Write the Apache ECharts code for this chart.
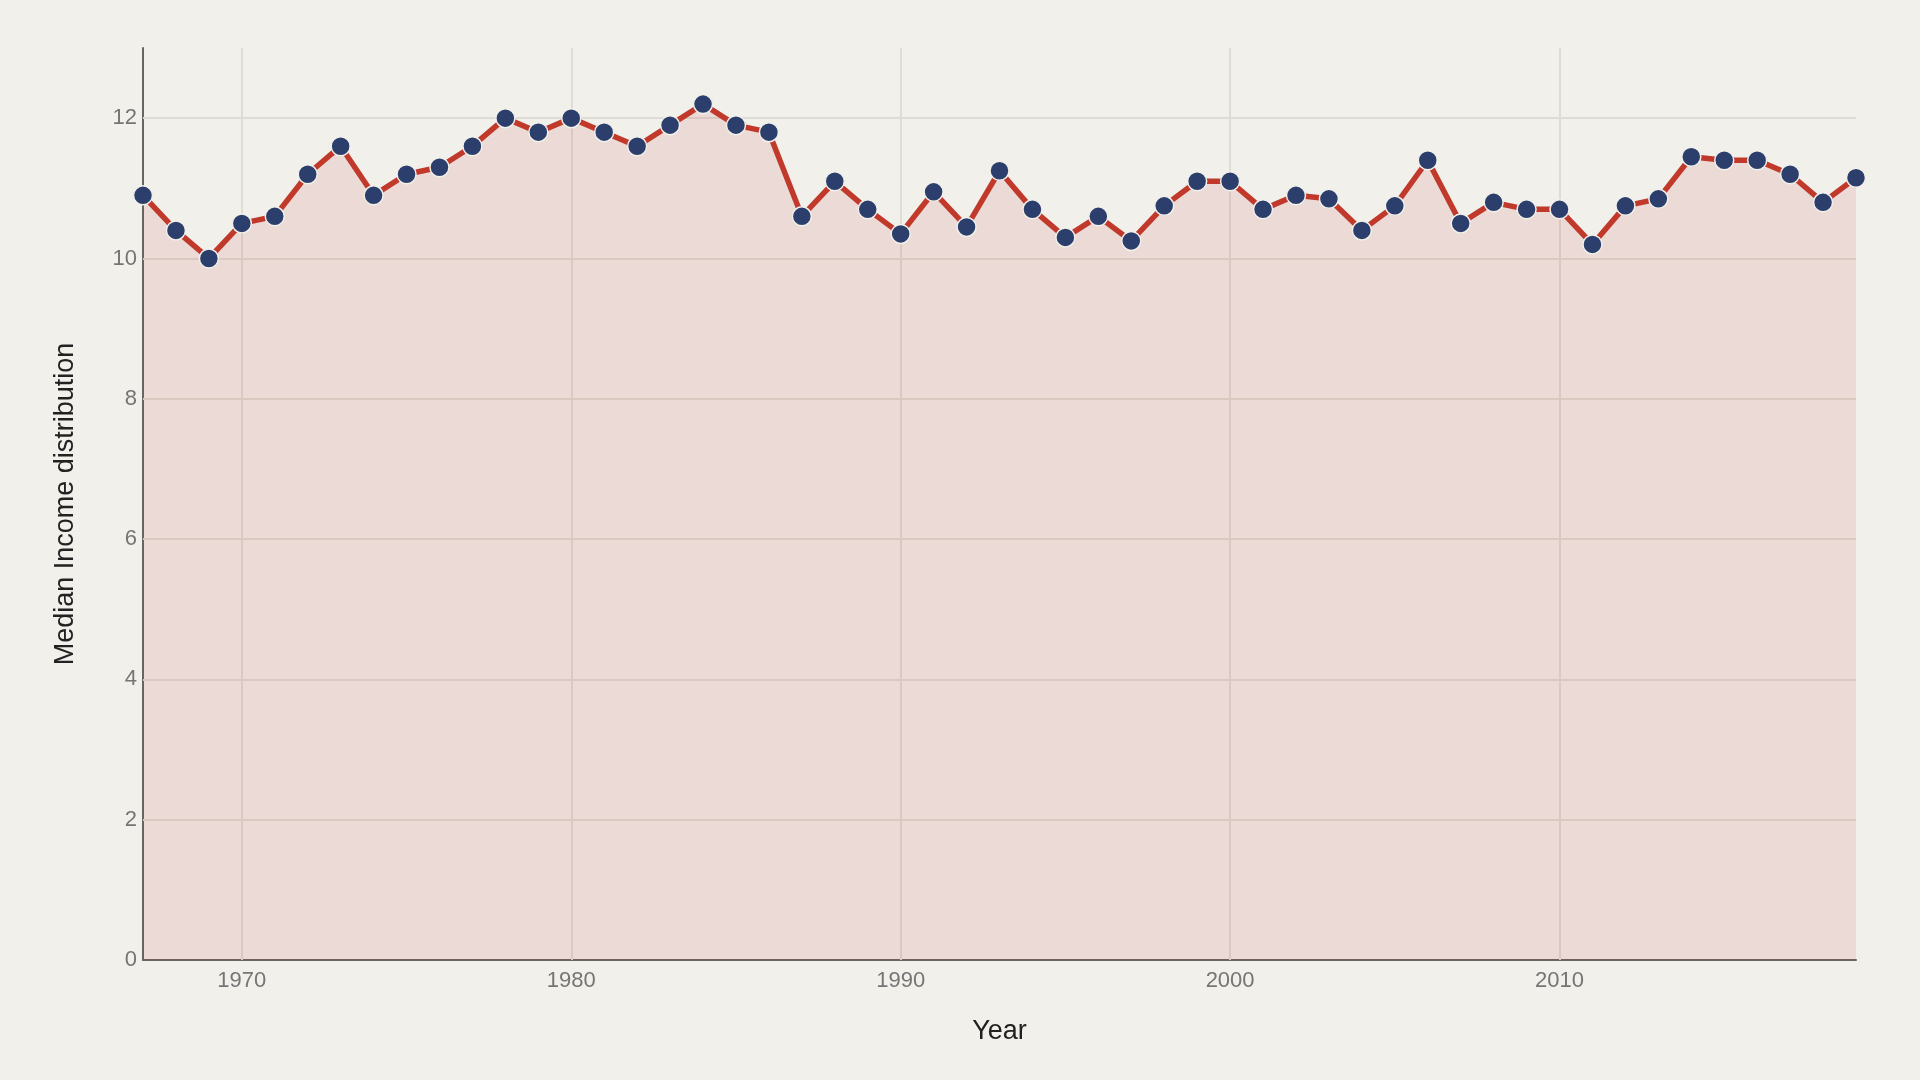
<!DOCTYPE html>
<html>
<head>
<meta charset="utf-8">
<script src="https://cdn.jsdelivr.net/npm/echarts@6/dist/echarts.min.js"></script>
<style>
html,body{margin:0;padding:0;background:#f1f0eb;}
#chart{width:1920px;height:1080px;}
</style>
</head>
<body>
<div id="chart"></div>
<script>
const years = [1967,1968,1969,1970,1971,1972,1973,1974,1975,1976,1977,1978,1979,1980,1981,1982,1983,1984,1985,1986,1987,1988,1989,1990,1991,1992,1993,1994,1995,1996,1997,1998,1999,2000,2001,2002,2003,2004,2005,2006,2007,2008,2009,2010,2011,2012,2013,2014,2015,2016,2017,2018,2019];
const medianIncome = [10.9,10.4,10.0,10.5,10.6,11.2,11.6,10.9,11.2,11.3,11.6,12.0,11.8,12.0,11.8,11.6,11.9,12.2,11.9,11.8,10.6,11.1,10.7,10.35,10.95,10.45,11.25,10.7,10.3,10.6,10.25,10.75,11.1,11.1,10.7,10.9,10.85,10.4,10.75,11.4,10.5,10.8,10.7,10.7,10.2,10.75,10.85,11.45,11.4,11.4,11.2,10.8,11.15];
const xTickYears = [1970,1980,1990,2000,2010];
const yTicks = [0,2,4,6,8,10,12];

const chart = echarts.init(document.getElementById('chart'));
const font = 'Liberation Sans, Arial, sans-serif';
const gridColor = '#dfdbd5';
chart.setOption({
  backgroundColor: '#f1f0eb',
  animation: false,
  grid: {left: 143, right: 64, top: 48, bottom: 120, containLabel: false},
  xAxis: {
    type: 'value', min: 1967, max: 2019,
    name: 'Year', nameLocation: 'middle', nameGap: 58,
    nameTextStyle: {fontFamily: font, fontSize: 27, color: '#222'},
    axisLine: {show: true, lineStyle: {color: '#666', width: 2}},
    axisTick: {show: false},
    splitLine: {show: false},
    axisLabel: {customValues: xTickYears, fontFamily: font, fontSize: 22, color: '#757575', margin: 10, formatter: v => String(v)}
  },
  yAxis: {
    type: 'value', min: 0, max: 13,
    name: 'Median Income distribution', nameLocation: 'middle', nameGap: 64,
    nameTextStyle: {fontFamily: font, fontSize: 27, color: '#222'},
    axisLine: {show: true, lineStyle: {color: '#666', width: 2}},
    axisTick: {show: false},
    splitLine: {show: false},
    axisLabel: {customValues: yTicks, fontFamily: font, fontSize: 22, color: '#757575', margin: 6}
  },
  series: [
    {
      type: 'line', data: [], z: 1, silent: true,
      markLine: {
        z: 1, silent: true, symbol: 'none', label: {show: false},
        lineStyle: {color: gridColor, width: 2, type: 'solid'},
        data: xTickYears.map(y => ({xAxis: y})).concat(yTicks.slice(1).map(v => ({yAxis: v})))
      }
    },
    {
      type: 'line', z: 3,
      data: years.map((y, i) => [y, medianIncome[i]]),
      lineStyle: {color: '#c0392b', width: 5.5},
      areaStyle: {color: 'rgba(192,57,43,0.16)'},
      symbol: 'circle', symbolSize: 19,
      itemStyle: {color: '#2c3e6b', borderColor: '#f1f0eb', borderWidth: 1.5},
      clip: false
    }
  ]
});
</script>
</body>
</html>
